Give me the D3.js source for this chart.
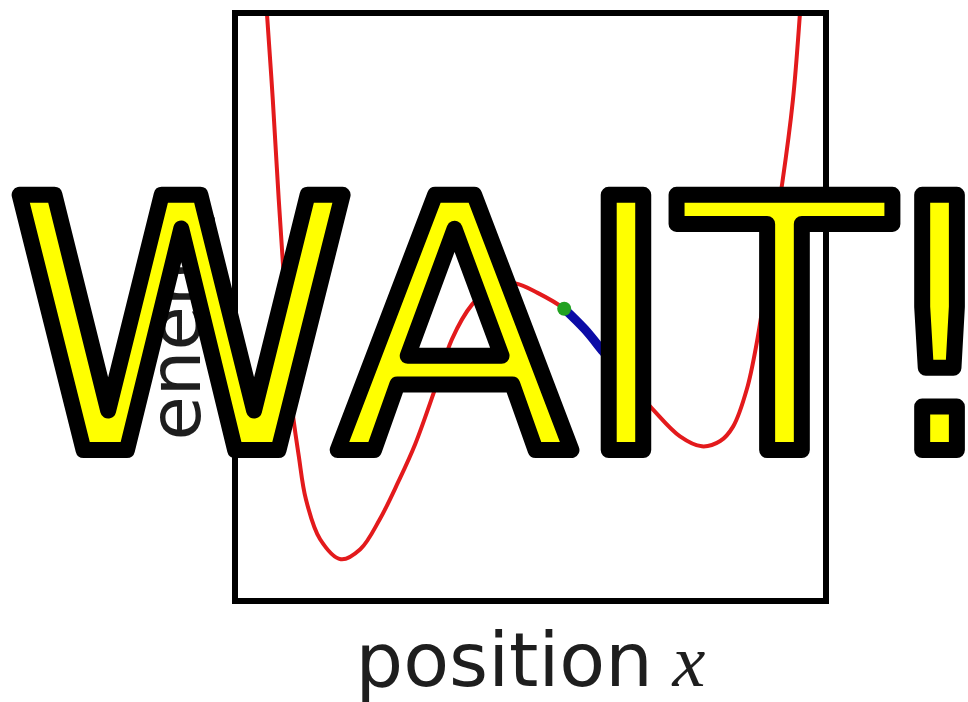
<!DOCTYPE html>
<html>
<head>
<meta charset="utf-8">
<script src="https://cdnjs.cloudflare.com/ajax/libs/d3/7.8.5/d3.min.js"></script>
<style>
  body { margin: 0; background: #fff; }
  svg { display: block; }
</style>
</head>
<body>
<script>

//Potential curve (arbitrary units)
var positionX = [0.49, 0.54, 0.64, 0.74, 0.85, 0.95, 1.08, 1.20, 1.44, 1.79, 2.12, 2.45, 2.76, 3.05, 3.40, 3.67, 4.01, 4.40, 4.75, 5.12, 5.57, 5.92, 6.23, 6.65, 7.07, 7.53, 7.90, 8.21, 8.43, 8.66, 8.83, 9.05, 9.26, 9.44, 9.56, 9.61];
var energyY   = [10.73, 10.0, 8.52, 6.83, 5.13, 3.43, 2.46, 1.73, 1.05, 0.71, 0.88, 1.39, 2.02, 2.67, 3.65, 4.45, 5.04, 5.38, 5.40, 5.24, 4.97, 4.62, 4.24, 3.74, 3.26, 2.80, 2.63, 2.72, 2.97, 3.60, 4.40, 5.81, 7.11, 8.52, 10.0, 10.73];

//Blue stretch of the path and the green particle
var stepX = [5.57, 5.92, 6.23, 6.45];
var stepY = [4.97, 4.62, 4.24, 3.98];
var particleX = [5.57];
var particleY = [4.97];

//Texts
var xLabel = "position ";
var xSymbol = "x";
var yLabel = "energy";
var bannerWord = "WAIT";
var bannerMark = "!";

//Width and height
var w = 968;
var h = 702;
var box = { left: 235, top: 13, right: 826, bottom: 601 };

//Scales
var xScale = d3.scaleLinear().domain([0, 10]).range([box.left, box.right]);
var yScale = d3.scaleLinear().domain([0, 10]).range([box.bottom, box.top]);

var line = d3.line()
             .x(function(d) { return xScale(d[0]); })
             .y(function(d) { return yScale(d[1]); })
             .curve(d3.curveCatmullRom);

//Create SVG element
var svg = d3.select("body")
            .append("svg")
            .attr("width", w)
            .attr("height", h);

svg.append("clipPath")
   .attr("id", "plotClip")
   .append("rect")
   .attr("x", box.left)
   .attr("y", box.top)
   .attr("width", box.right - box.left)
   .attr("height", box.bottom - box.top);

var plot = svg.append("g").attr("clip-path", "url(#plotClip)");

//Red potential
plot.append("path")
    .datum(d3.zip(positionX, energyY))
    .attr("d", line)
    .attr("fill", "none")
    .attr("stroke", "#e31a1c")
    .attr("stroke-width", 4);

//Blue step
plot.append("path")
    .datum(d3.zip(stepX, stepY))
    .attr("d", line)
    .attr("fill", "none")
    .attr("stroke", "#0b0ba6")
    .attr("stroke-width", 9);

//Green particle
plot.selectAll("circle")
    .data(d3.zip(particleX, particleY))
    .enter()
    .append("circle")
    .attr("cx", function(d) { return xScale(d[0]); })
    .attr("cy", function(d) { return yScale(d[1]); })
    .attr("r", 7)
    .attr("fill", "#21a121");

//Frame
svg.append("rect")
   .attr("x", box.left)
   .attr("y", box.top)
   .attr("width", box.right - box.left)
   .attr("height", box.bottom - box.top)
   .attr("fill", "none")
   .attr("stroke", "#000")
   .attr("stroke-width", 6);

//Axis labels
var xl = svg.append("text")
            .attr("x", (box.left + box.right) / 2)
            .attr("y", 686)
            .attr("text-anchor", "middle")
            .attr("font-family", "DejaVu Sans")
            .attr("font-size", 75)
            .attr("fill", "#1e1e1e");
xl.append("tspan").text(xLabel);
xl.append("tspan")
  .attr("dx", -4)
  .attr("font-family", "Liberation Serif")
  .attr("font-style", "italic")
  .attr("font-size", 74)
  .text(xSymbol);

svg.append("text")
   .attr("transform", "translate(200,315) rotate(-90)")
   .attr("text-anchor", "middle")
   .attr("font-family", "DejaVu Sans")
   .attr("font-size", 72)
   .attr("fill", "#1e1e1e")
   .text(yLabel);

//Big banner on top
var banner = svg.append("text")
   .attr("x", 8)
   .attr("y", 450)
   .attr("font-family", "DejaVu Sans")
   .attr("font-size", 350)
   .attr("fill", "#ffff00")
   .attr("stroke", "#000")
   .attr("stroke-width", 16)
   .attr("stroke-linejoin", "round");
banner.append("tspan").text(bannerWord);
banner.append("tspan").attr("dx", -22).text(bannerMark);

</script>
</body>
</html>
